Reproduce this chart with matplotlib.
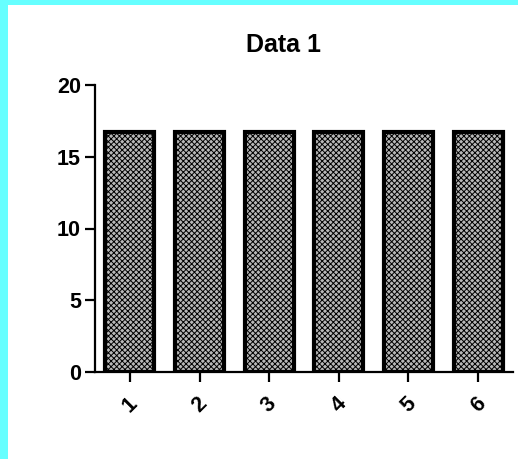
import matplotlib.pyplot as plt
from matplotlib.patches import Rectangle

plt.rcParams['font.family'] = ['Liberation Sans', 'DejaVu Sans']
plt.rcParams['hatch.color'] = '#202020'
plt.rcParams['hatch.linewidth'] = 0.7

categories = ['1', '2', '3', '4', '5', '6']
values = [16.7, 16.7, 16.7, 16.7, 16.7, 16.7]
title = 'Data 1'

fig = plt.figure(figsize=(5.18, 4.59), dpi=100, facecolor='#66ffff')
# white panel inside the cyan frame (cyan on top and left only)
fig.add_artist(Rectangle((8 / 518, 0), 1, 1 - 5 / 459, transform=fig.transFigure,
                         facecolor='white', edgecolor='none', zorder=-10))

ax = fig.add_axes([95 / 518, 87 / 459, 418 / 518, 287 / 459])
ax.set_facecolor('none')

pos = range(1, len(categories) + 1)
ax.bar(pos, values, width=0.7, facecolor='#b8b8b8', edgecolor='black',
       linewidth=3, hatch='xxxxxx', zorder=2)

ax.set_xlim(0.5, 6.5)
ax.set_ylim(0, 20)
ax.set_yticks([0, 5, 10, 15, 20])
ax.set_xticks(list(pos))
ax.set_xticklabels(categories, rotation=45, ha='center')

for s in ['top', 'right']:
    ax.spines[s].set_visible(False)
for s in ['left', 'bottom']:
    ax.spines[s].set_linewidth(1.6)
ax.tick_params(axis='both', width=1.6, length=7, labelsize=15.5, pad=3)
ax.tick_params(axis='x', pad=8)
for lbl in ax.get_xticklabels() + ax.get_yticklabels():
    lbl.set_fontweight('bold')

fig.text(283 / 518, 1 - 45 / 459, title, ha='center', va='center',
         fontsize=18, fontweight='bold')

fig.savefig('out.png', dpi=100, facecolor=fig.get_facecolor())
